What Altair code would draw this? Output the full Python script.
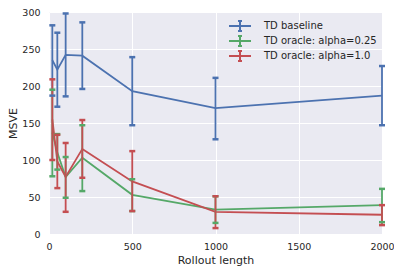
import altair as alt
import pandas as pd

rollout = [20, 50, 100, 200, 500, 1000, 2000]
series_names = ["TD baseline", "TD oracle: alpha=0.25", "TD oracle: alpha=1.0"]
colors = ["#4C72B0", "#55A868", "#C44E52"]

baseline_mean = [235, 222, 242, 241, 193, 170, 187]
baseline_lo = [187, 172, 186, 196, 147, 128, 147]
baseline_hi = [282, 272, 298, 286, 239, 211, 227]

a025_mean = [137, 110, 77, 103, 53, 33, 39]
a025_lo = [78, 87, 49, 58, 31, 15, 16]
a025_hi = [195, 135, 104, 147, 74, 51, 61]

a10_mean = [155, 98, 77, 115, 71, 30, 26]
a10_lo = [100, 62, 30, 76, 31, 8, 12]
a10_hi = [209, 134, 123, 154, 112, 51, 39]

x_ticks = [0, 500, 1000, 1500, 2000]
y_ticks = [0, 50, 100, 150, 200, 250, 300]

rows = []
for name, m, lo, hi in zip(series_names,
                           [baseline_mean, a025_mean, a10_mean],
                           [baseline_lo, a025_lo, a10_lo],
                           [baseline_hi, a025_hi, a10_hi]):
    for x, mv, l, h in zip(rollout, m, lo, hi):
        rows.append({"rollout": x, "series": name, "mean": mv, "lo": l, "hi": h})
df = pd.DataFrame(rows)

FONT = "DejaVu Sans"
TXT = "#262626"

cscale = alt.Scale(domain=series_names, range=colors)
xscale = alt.Scale(domain=[0, 2000], nice=False)
yscale = alt.Scale(domain=[0, 300], nice=False)

xaxis = alt.Axis(values=x_ticks, tickCount=5, title="Rollout length",
                 format="d", labelPadding=7, titlePadding=4,
                 labelOverlap=False, labelFlush=False)
yaxis = alt.Axis(values=y_ticks, tickCount=7, title="MSVE",
                 format="d", labelPadding=9, titlePadding=3,
                 labelOverlap=False, labelFlush=False)

legend = alt.Legend(
    title=None,
    orient="none",
    legendX=185,
    legendY=8,
    symbolType="M-2.2,0L2.2,0M0,-1L0,1M-0.4,-1L0.4,-1M-0.4,1L0.4,1",
    symbolSize=100,
    symbolStrokeWidth=2,
    symbolFillColor="transparent",
    labelFontSize=10,
    labelFont=FONT,
    labelColor=TXT,
    labelOffset=18,
    rowPadding=-9,
    padding=0,
)

def X():
    return alt.X("rollout:Q", scale=xscale, axis=xaxis)

def Y(field):
    return alt.Y(field + ":Q", scale=yscale, axis=yaxis)

base = alt.Chart(df)

lines = base.mark_line(strokeWidth=1.8).encode(
    x=X(), y=Y("mean"),
    color=alt.Color("series:N", scale=cscale, legend=legend),
    order=alt.Order("rollout:Q"),
)
bars = base.mark_rule(strokeWidth=1.8).encode(
    x=X(), y=Y("lo"), y2="hi:Q",
    color=alt.Color("series:N", scale=cscale, legend=None),
)
caps_lo = base.mark_tick(orient="horizontal", size=6, thickness=2.5, opacity=1).encode(
    x=X(), y=Y("lo"),
    color=alt.Color("series:N", scale=cscale, legend=None),
)
caps_hi = base.mark_tick(orient="horizontal", size=6, thickness=2.5, opacity=1).encode(
    x=X(), y=Y("hi"),
    color=alt.Color("series:N", scale=cscale, legend=None),
)

chart = alt.layer(lines, bars, caps_lo, caps_hi).properties(
    width=333,
    height=222,
    autosize=alt.AutoSizeParams(type="none"),
    padding={"left": 41, "top": 4, "right": 12, "bottom": 32},
).configure_view(
    fill="#EAEAF2", stroke=None
).configure_axis(
    grid=True,
    gridColor="white",
    gridWidth=1,
    domain=False,
    ticks=False,
    labelOverlap=False,
    labelFlush=False,
    labelFont=FONT,
    labelFontSize=9.5,
    labelColor=TXT,
    titleFont=FONT,
    titleFontSize=11,
    titleFontWeight="normal",
    titleColor=TXT,
)

chart.save("out.html", embed_options={"renderer": "svg", "actions": False})
